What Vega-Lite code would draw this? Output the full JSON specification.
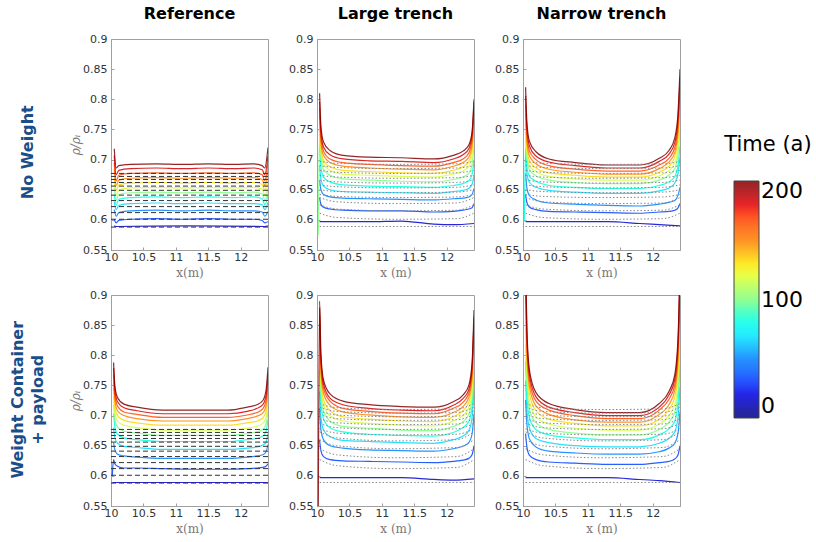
{
"$schema":"https://vega.github.io/schema/vega-lite/v6.json",
"background":"white",
"padding":{"left":10,"top":5,"right":5,"bottom":5},
"datasets":{
"A":[
{"t":17,"x":10.05,"y":0.590},{"t":17,"x":10.08,"y":0.589},{"t":17,"x":11.2,"y":0.590},{"t":17,"x":12.37,"y":0.589},{"t":17,"x":12.42,"y":0.590},
{"t":33,"x":10.05,"y":0.601},{"t":33,"x":10.08,"y":0.595},{"t":33,"x":10.12,"y":0.599},{"t":33,"x":10.3,"y":0.601},{"t":33,"x":10.7,"y":0.602},{"t":33,"x":11.1,"y":0.601},{"t":33,"x":11.5,"y":0.602},{"t":33,"x":11.9,"y":0.601},{"t":33,"x":12.2,"y":0.601},{"t":33,"x":12.33,"y":0.599},{"t":33,"x":12.37,"y":0.595},{"t":33,"x":12.42,"y":0.597},
{"t":50,"x":10.05,"y":0.617},{"t":50,"x":10.08,"y":0.606},{"t":50,"x":10.12,"y":0.612},{"t":50,"x":10.3,"y":0.615},{"t":50,"x":10.7,"y":0.616},{"t":50,"x":11.1,"y":0.615},{"t":50,"x":11.5,"y":0.616},{"t":50,"x":11.9,"y":0.615},{"t":50,"x":12.2,"y":0.615},{"t":50,"x":12.33,"y":0.613},{"t":50,"x":12.37,"y":0.606},{"t":50,"x":12.42,"y":0.614},
{"t":67,"x":10.05,"y":0.630},{"t":67,"x":10.08,"y":0.617},{"t":67,"x":10.12,"y":0.624},{"t":67,"x":10.3,"y":0.627},{"t":67,"x":10.7,"y":0.628},{"t":67,"x":11.1,"y":0.627},{"t":67,"x":11.5,"y":0.628},{"t":67,"x":11.9,"y":0.627},{"t":67,"x":12.2,"y":0.627},{"t":67,"x":12.33,"y":0.625},{"t":67,"x":12.37,"y":0.617},{"t":67,"x":12.42,"y":0.629},
{"t":83,"x":10.05,"y":0.642},{"t":83,"x":10.08,"y":0.625},{"t":83,"x":10.12,"y":0.634},{"t":83,"x":10.3,"y":0.637},{"t":83,"x":10.7,"y":0.638},{"t":83,"x":11.1,"y":0.637},{"t":83,"x":11.5,"y":0.638},{"t":83,"x":11.9,"y":0.637},{"t":83,"x":12.2,"y":0.638},{"t":83,"x":12.33,"y":0.635},{"t":83,"x":12.37,"y":0.625},{"t":83,"x":12.42,"y":0.641},
{"t":100,"x":10.05,"y":0.652},{"t":100,"x":10.08,"y":0.633},{"t":100,"x":10.12,"y":0.642},{"t":100,"x":10.3,"y":0.645},{"t":100,"x":10.7,"y":0.646},{"t":100,"x":11.1,"y":0.645},{"t":100,"x":11.5,"y":0.646},{"t":100,"x":11.9,"y":0.645},{"t":100,"x":12.2,"y":0.646},{"t":100,"x":12.33,"y":0.643},{"t":100,"x":12.37,"y":0.633},{"t":100,"x":12.42,"y":0.651},
{"t":117,"x":10.05,"y":0.662},{"t":117,"x":10.08,"y":0.641},{"t":117,"x":10.12,"y":0.650},{"t":117,"x":10.3,"y":0.653},{"t":117,"x":10.7,"y":0.654},{"t":117,"x":11.1,"y":0.653},{"t":117,"x":11.5,"y":0.654},{"t":117,"x":11.9,"y":0.653},{"t":117,"x":12.2,"y":0.654},{"t":117,"x":12.33,"y":0.651},{"t":117,"x":12.37,"y":0.641},{"t":117,"x":12.42,"y":0.661},
{"t":133,"x":10.05,"y":0.673},{"t":133,"x":10.08,"y":0.649},{"t":133,"x":10.12,"y":0.658},{"t":133,"x":10.3,"y":0.661},{"t":133,"x":10.7,"y":0.662},{"t":133,"x":11.1,"y":0.661},{"t":133,"x":11.5,"y":0.662},{"t":133,"x":11.9,"y":0.661},{"t":133,"x":12.2,"y":0.662},{"t":133,"x":12.33,"y":0.659},{"t":133,"x":12.37,"y":0.649},{"t":133,"x":12.42,"y":0.671},
{"t":150,"x":10.05,"y":0.684},{"t":150,"x":10.08,"y":0.657},{"t":150,"x":10.12,"y":0.666},{"t":150,"x":10.3,"y":0.669},{"t":150,"x":10.7,"y":0.670},{"t":150,"x":11.1,"y":0.669},{"t":150,"x":11.5,"y":0.670},{"t":150,"x":11.9,"y":0.669},{"t":150,"x":12.2,"y":0.670},{"t":150,"x":12.33,"y":0.667},{"t":150,"x":12.37,"y":0.657},{"t":150,"x":12.42,"y":0.682},
{"t":167,"x":10.05,"y":0.695},{"t":167,"x":10.08,"y":0.665},{"t":167,"x":10.12,"y":0.674},{"t":167,"x":10.3,"y":0.677},{"t":167,"x":10.7,"y":0.678},{"t":167,"x":11.1,"y":0.677},{"t":167,"x":11.5,"y":0.678},{"t":167,"x":11.9,"y":0.677},{"t":167,"x":12.2,"y":0.678},{"t":167,"x":12.33,"y":0.675},{"t":167,"x":12.37,"y":0.665},{"t":167,"x":12.42,"y":0.694},
{"t":183,"x":10.05,"y":0.707},{"t":183,"x":10.08,"y":0.675},{"t":183,"x":10.12,"y":0.682},{"t":183,"x":10.3,"y":0.685},{"t":183,"x":10.7,"y":0.686},{"t":183,"x":11.1,"y":0.685},{"t":183,"x":11.5,"y":0.686},{"t":183,"x":11.9,"y":0.685},{"t":183,"x":12.2,"y":0.686},{"t":183,"x":12.33,"y":0.683},{"t":183,"x":12.37,"y":0.675},{"t":183,"x":12.42,"y":0.706},
{"t":200,"x":10.05,"y":0.718},{"t":200,"x":10.08,"y":0.686},{"t":200,"x":10.12,"y":0.690},{"t":200,"x":10.3,"y":0.692},{"t":200,"x":10.7,"y":0.693},{"t":200,"x":11.1,"y":0.692},{"t":200,"x":11.5,"y":0.693},{"t":200,"x":11.9,"y":0.692},{"t":200,"x":12.2,"y":0.693},{"t":200,"x":12.33,"y":0.690},{"t":200,"x":12.37,"y":0.686},{"t":200,"x":12.42,"y":0.720}
],
"B":[
{"t":17,"x":10.04,"y":0.597},{"t":17,"x":10.4,"y":0.597},{"t":17,"x":10.8,"y":0.597},{"t":17,"x":11.3,"y":0.598},{"t":17,"x":11.8,"y":0.593},{"t":17,"x":12.1,"y":0.592},{"t":17,"x":12.42,"y":0.594},
{"t":33,"x":10.04,"y":0.637},{"t":33,"x":10.06,"y":0.626},{"t":33,"x":10.1,"y":0.621},{"t":33,"x":10.2,"y":0.618},{"t":33,"x":10.4,"y":0.616},{"t":33,"x":10.8,"y":0.615},{"t":33,"x":11.3,"y":0.615},{"t":33,"x":11.8,"y":0.613},{"t":33,"x":12.1,"y":0.614},{"t":33,"x":12.25,"y":0.616},{"t":33,"x":12.34,"y":0.618},{"t":33,"x":12.39,"y":0.620},{"t":33,"x":12.42,"y":0.627},
{"t":50,"x":10.04,"y":0.666},{"t":50,"x":10.06,"y":0.650},{"t":50,"x":10.1,"y":0.642},{"t":50,"x":10.2,"y":0.638},{"t":50,"x":10.4,"y":0.636},{"t":50,"x":10.8,"y":0.635},{"t":50,"x":11.3,"y":0.634},{"t":50,"x":11.8,"y":0.633},{"t":50,"x":12.1,"y":0.635},{"t":50,"x":12.25,"y":0.636},{"t":50,"x":12.34,"y":0.638},{"t":50,"x":12.39,"y":0.642},{"t":50,"x":12.42,"y":0.652},
{"t":67,"x":10.04,"y":0.690},{"t":67,"x":10.06,"y":0.668},{"t":67,"x":10.1,"y":0.656},{"t":67,"x":10.2,"y":0.650},{"t":67,"x":10.4,"y":0.647},{"t":67,"x":10.8,"y":0.646},{"t":67,"x":11.3,"y":0.645},{"t":67,"x":11.8,"y":0.644},{"t":67,"x":12.1,"y":0.647},{"t":67,"x":12.25,"y":0.649},{"t":67,"x":12.34,"y":0.652},{"t":67,"x":12.39,"y":0.659},{"t":67,"x":12.42,"y":0.675},
{"t":83,"x":10.04,"y":0.720},{"t":83,"x":10.06,"y":0.688},{"t":83,"x":10.1,"y":0.671},{"t":83,"x":10.2,"y":0.663},{"t":83,"x":10.4,"y":0.658},{"t":83,"x":10.8,"y":0.656},{"t":83,"x":11.3,"y":0.655},{"t":83,"x":11.8,"y":0.654},{"t":83,"x":12.1,"y":0.657},{"t":83,"x":12.25,"y":0.660},{"t":83,"x":12.34,"y":0.665},{"t":83,"x":12.39,"y":0.675},{"t":83,"x":12.42,"y":0.700},
{"t":100,"x":10.02,"y":0.575},{"t":100,"x":10.04,"y":0.744},{"t":100,"x":10.06,"y":0.704},{"t":100,"x":10.1,"y":0.684},{"t":100,"x":10.2,"y":0.674},{"t":100,"x":10.4,"y":0.668},{"t":100,"x":10.8,"y":0.666},{"t":100,"x":11.3,"y":0.664},{"t":100,"x":11.8,"y":0.663},{"t":100,"x":12.1,"y":0.667},{"t":100,"x":12.25,"y":0.671},{"t":100,"x":12.34,"y":0.677},{"t":100,"x":12.39,"y":0.691},{"t":100,"x":12.42,"y":0.724},
{"t":117,"x":10.04,"y":0.755},{"t":117,"x":10.06,"y":0.714},{"t":117,"x":10.1,"y":0.693},{"t":117,"x":10.2,"y":0.682},{"t":117,"x":10.4,"y":0.676},{"t":117,"x":10.8,"y":0.674},{"t":117,"x":11.3,"y":0.672},{"t":117,"x":11.8,"y":0.671},{"t":117,"x":12.1,"y":0.676},{"t":117,"x":12.25,"y":0.681},{"t":117,"x":12.34,"y":0.689},{"t":117,"x":12.39,"y":0.706},{"t":117,"x":12.42,"y":0.747},
{"t":133,"x":10.04,"y":0.763},{"t":133,"x":10.06,"y":0.721},{"t":133,"x":10.1,"y":0.699},{"t":133,"x":10.2,"y":0.688},{"t":133,"x":10.4,"y":0.682},{"t":133,"x":10.8,"y":0.680},{"t":133,"x":11.3,"y":0.678},{"t":133,"x":11.8,"y":0.677},{"t":133,"x":12.1,"y":0.682},{"t":133,"x":12.25,"y":0.688},{"t":133,"x":12.34,"y":0.697},{"t":133,"x":12.39,"y":0.716},{"t":133,"x":12.42,"y":0.763},
{"t":150,"x":10.04,"y":0.774},{"t":150,"x":10.06,"y":0.729},{"t":150,"x":10.1,"y":0.707},{"t":150,"x":10.2,"y":0.695},{"t":150,"x":10.4,"y":0.689},{"t":150,"x":10.8,"y":0.686},{"t":150,"x":11.3,"y":0.684},{"t":150,"x":11.8,"y":0.683},{"t":150,"x":12.1,"y":0.689},{"t":150,"x":12.25,"y":0.695},{"t":150,"x":12.34,"y":0.704},{"t":150,"x":12.39,"y":0.725},{"t":150,"x":12.42,"y":0.774},
{"t":167,"x":10.04,"y":0.785},{"t":167,"x":10.06,"y":0.738},{"t":167,"x":10.1,"y":0.714},{"t":167,"x":10.2,"y":0.701},{"t":167,"x":10.4,"y":0.695},{"t":167,"x":10.8,"y":0.692},{"t":167,"x":11.3,"y":0.690},{"t":167,"x":11.8,"y":0.689},{"t":167,"x":12.1,"y":0.695},{"t":167,"x":12.25,"y":0.701},{"t":167,"x":12.34,"y":0.711},{"t":167,"x":12.39,"y":0.733},{"t":167,"x":12.42,"y":0.785},
{"t":183,"x":10.04,"y":0.796},{"t":183,"x":10.06,"y":0.746},{"t":183,"x":10.1,"y":0.721},{"t":183,"x":10.2,"y":0.708},{"t":183,"x":10.4,"y":0.701},{"t":183,"x":10.8,"y":0.698},{"t":183,"x":11.3,"y":0.697},{"t":183,"x":11.8,"y":0.695},{"t":183,"x":12.1,"y":0.701},{"t":183,"x":12.25,"y":0.708},{"t":183,"x":12.34,"y":0.718},{"t":183,"x":12.39,"y":0.741},{"t":183,"x":12.42,"y":0.796},
{"t":200,"x":10.04,"y":0.810},{"t":200,"x":10.06,"y":0.756},{"t":200,"x":10.1,"y":0.729},{"t":200,"x":10.2,"y":0.715},{"t":200,"x":10.4,"y":0.707},{"t":200,"x":10.8,"y":0.704},{"t":200,"x":11.3,"y":0.703},{"t":200,"x":11.8,"y":0.701},{"t":200,"x":12.1,"y":0.707},{"t":200,"x":12.25,"y":0.714},{"t":200,"x":12.34,"y":0.724},{"t":200,"x":12.39,"y":0.746},{"t":200,"x":12.42,"y":0.800}
],
"C":[
{"t":17,"x":10.04,"y":0.597},{"t":17,"x":10.4,"y":0.597},{"t":17,"x":10.8,"y":0.597},{"t":17,"x":11.3,"y":0.597},{"t":17,"x":11.8,"y":0.594},{"t":17,"x":12.1,"y":0.592},{"t":17,"x":12.42,"y":0.590},
{"t":33,"x":10.04,"y":0.642},{"t":33,"x":10.06,"y":0.629},{"t":33,"x":10.1,"y":0.621},{"t":33,"x":10.2,"y":0.617},{"t":33,"x":10.4,"y":0.614},{"t":33,"x":10.8,"y":0.613},{"t":33,"x":11.3,"y":0.612},{"t":33,"x":11.8,"y":0.611},{"t":33,"x":12.1,"y":0.613},{"t":33,"x":12.25,"y":0.614},{"t":33,"x":12.34,"y":0.616},{"t":33,"x":12.39,"y":0.620},{"t":33,"x":12.42,"y":0.627},
{"t":50,"x":10.04,"y":0.677},{"t":50,"x":10.06,"y":0.653},{"t":50,"x":10.1,"y":0.640},{"t":50,"x":10.2,"y":0.633},{"t":50,"x":10.4,"y":0.628},{"t":50,"x":10.8,"y":0.626},{"t":50,"x":11.3,"y":0.624},{"t":50,"x":11.8,"y":0.623},{"t":50,"x":12.1,"y":0.626},{"t":50,"x":12.25,"y":0.629},{"t":50,"x":12.34,"y":0.632},{"t":50,"x":12.39,"y":0.641},{"t":50,"x":12.42,"y":0.654},
{"t":67,"x":10.04,"y":0.704},{"t":67,"x":10.06,"y":0.677},{"t":67,"x":10.1,"y":0.662},{"t":67,"x":10.2,"y":0.654},{"t":67,"x":10.4,"y":0.649},{"t":67,"x":10.8,"y":0.646},{"t":67,"x":11.3,"y":0.644},{"t":67,"x":11.8,"y":0.644},{"t":67,"x":12.1,"y":0.648},{"t":67,"x":12.25,"y":0.653},{"t":67,"x":12.34,"y":0.661},{"t":67,"x":12.39,"y":0.677},{"t":67,"x":12.42,"y":0.704},
{"t":83,"x":10.02,"y":0.597},{"t":83,"x":10.04,"y":0.720},{"t":83,"x":10.06,"y":0.689},{"t":83,"x":10.1,"y":0.672},{"t":83,"x":10.2,"y":0.664},{"t":83,"x":10.4,"y":0.657},{"t":83,"x":10.8,"y":0.654},{"t":83,"x":11.3,"y":0.652},{"t":83,"x":11.8,"y":0.652},{"t":83,"x":12.1,"y":0.657},{"t":83,"x":12.25,"y":0.663},{"t":83,"x":12.34,"y":0.672},{"t":83,"x":12.39,"y":0.691},{"t":83,"x":12.42,"y":0.722},
{"t":100,"x":10.04,"y":0.735},{"t":100,"x":10.06,"y":0.701},{"t":100,"x":10.1,"y":0.683},{"t":100,"x":10.2,"y":0.673},{"t":100,"x":10.4,"y":0.666},{"t":100,"x":10.8,"y":0.662},{"t":100,"x":11.3,"y":0.660},{"t":100,"x":11.8,"y":0.660},{"t":100,"x":12.1,"y":0.666},{"t":100,"x":12.25,"y":0.674},{"t":100,"x":12.34,"y":0.685},{"t":100,"x":12.39,"y":0.710},{"t":100,"x":12.42,"y":0.750},
{"t":117,"x":10.04,"y":0.746},{"t":117,"x":10.06,"y":0.710},{"t":117,"x":10.1,"y":0.690},{"t":117,"x":10.2,"y":0.680},{"t":117,"x":10.4,"y":0.672},{"t":117,"x":10.8,"y":0.668},{"t":117,"x":11.3,"y":0.666},{"t":117,"x":11.8,"y":0.666},{"t":117,"x":12.1,"y":0.673},{"t":117,"x":12.25,"y":0.682},{"t":117,"x":12.34,"y":0.695},{"t":117,"x":12.39,"y":0.724},{"t":117,"x":12.42,"y":0.771},
{"t":133,"x":10.04,"y":0.761},{"t":133,"x":10.06,"y":0.721},{"t":133,"x":10.1,"y":0.698},{"t":133,"x":10.2,"y":0.686},{"t":133,"x":10.4,"y":0.678},{"t":133,"x":10.8,"y":0.674},{"t":133,"x":11.3,"y":0.671},{"t":133,"x":11.8,"y":0.671},{"t":133,"x":12.1,"y":0.679},{"t":133,"x":12.25,"y":0.689},{"t":133,"x":12.34,"y":0.705},{"t":133,"x":12.39,"y":0.737},{"t":133,"x":12.42,"y":0.791},
{"t":150,"x":10.04,"y":0.776},{"t":150,"x":10.06,"y":0.731},{"t":150,"x":10.1,"y":0.706},{"t":150,"x":10.2,"y":0.693},{"t":150,"x":10.4,"y":0.684},{"t":150,"x":10.8,"y":0.679},{"t":150,"x":11.3,"y":0.676},{"t":150,"x":11.8,"y":0.676},{"t":150,"x":12.1,"y":0.685},{"t":150,"x":12.25,"y":0.696},{"t":150,"x":12.34,"y":0.712},{"t":150,"x":12.39,"y":0.748},{"t":150,"x":12.42,"y":0.806},
{"t":167,"x":10.04,"y":0.791},{"t":167,"x":10.06,"y":0.742},{"t":167,"x":10.1,"y":0.714},{"t":167,"x":10.2,"y":0.700},{"t":167,"x":10.4,"y":0.690},{"t":167,"x":10.8,"y":0.684},{"t":167,"x":11.3,"y":0.681},{"t":167,"x":11.8,"y":0.681},{"t":167,"x":12.1,"y":0.691},{"t":167,"x":12.25,"y":0.702},{"t":167,"x":12.34,"y":0.720},{"t":167,"x":12.39,"y":0.758},{"t":167,"x":12.42,"y":0.821},
{"t":183,"x":10.04,"y":0.806},{"t":183,"x":10.06,"y":0.752},{"t":183,"x":10.1,"y":0.722},{"t":183,"x":10.2,"y":0.706},{"t":183,"x":10.4,"y":0.696},{"t":183,"x":10.8,"y":0.690},{"t":183,"x":11.3,"y":0.686},{"t":183,"x":11.8,"y":0.686},{"t":183,"x":12.1,"y":0.697},{"t":183,"x":12.25,"y":0.709},{"t":183,"x":12.34,"y":0.728},{"t":183,"x":12.39,"y":0.769},{"t":183,"x":12.42,"y":0.836},
{"t":200,"x":10.04,"y":0.820},{"t":200,"x":10.06,"y":0.762},{"t":200,"x":10.1,"y":0.730},{"t":200,"x":10.2,"y":0.713},{"t":200,"x":10.4,"y":0.701},{"t":200,"x":10.8,"y":0.695},{"t":200,"x":11.3,"y":0.691},{"t":200,"x":11.8,"y":0.691},{"t":200,"x":12.1,"y":0.702},{"t":200,"x":12.25,"y":0.715},{"t":200,"x":12.34,"y":0.736},{"t":200,"x":12.39,"y":0.778},{"t":200,"x":12.42,"y":0.850}
],
"D":[
{"t":17,"x":10.02,"y":0.589},{"t":17,"x":11.2,"y":0.589},{"t":17,"x":12.42,"y":0.589},
{"t":33,"x":10.02,"y":0.600},{"t":33,"x":10.04,"y":0.627},{"t":33,"x":10.06,"y":0.620},{"t":33,"x":10.1,"y":0.616},{"t":33,"x":10.2,"y":0.613},{"t":33,"x":10.4,"y":0.613},{"t":33,"x":10.8,"y":0.612},{"t":33,"x":11.3,"y":0.611},{"t":33,"x":11.8,"y":0.611},{"t":33,"x":12.1,"y":0.612},{"t":33,"x":12.25,"y":0.613},{"t":33,"x":12.34,"y":0.614},{"t":33,"x":12.39,"y":0.616},{"t":33,"x":12.42,"y":0.620},
{"t":50,"x":10.04,"y":0.655},{"t":50,"x":10.06,"y":0.643},{"t":50,"x":10.1,"y":0.636},{"t":50,"x":10.2,"y":0.633},{"t":50,"x":10.4,"y":0.631},{"t":50,"x":10.8,"y":0.629},{"t":50,"x":11.3,"y":0.629},{"t":50,"x":11.8,"y":0.629},{"t":50,"x":12.1,"y":0.631},{"t":50,"x":12.25,"y":0.633},{"t":50,"x":12.34,"y":0.635},{"t":50,"x":12.39,"y":0.640},{"t":50,"x":12.42,"y":0.652},
{"t":67,"x":10.04,"y":0.680},{"t":67,"x":10.06,"y":0.663},{"t":67,"x":10.1,"y":0.654},{"t":67,"x":10.2,"y":0.649},{"t":67,"x":10.4,"y":0.647},{"t":67,"x":10.8,"y":0.644},{"t":67,"x":11.3,"y":0.644},{"t":67,"x":11.8,"y":0.644},{"t":67,"x":12.1,"y":0.646},{"t":67,"x":12.25,"y":0.648},{"t":67,"x":12.34,"y":0.651},{"t":67,"x":12.39,"y":0.656},{"t":67,"x":12.42,"y":0.670},
{"t":83,"x":10.04,"y":0.703},{"t":83,"x":10.06,"y":0.681},{"t":83,"x":10.1,"y":0.669},{"t":83,"x":10.2,"y":0.663},{"t":83,"x":10.4,"y":0.660},{"t":83,"x":10.8,"y":0.657},{"t":83,"x":11.3,"y":0.657},{"t":83,"x":11.8,"y":0.657},{"t":83,"x":12.1,"y":0.660},{"t":83,"x":12.25,"y":0.662},{"t":83,"x":12.34,"y":0.666},{"t":83,"x":12.39,"y":0.674},{"t":83,"x":12.42,"y":0.693},
{"t":100,"x":10.04,"y":0.718},{"t":100,"x":10.06,"y":0.693},{"t":100,"x":10.1,"y":0.681},{"t":100,"x":10.2,"y":0.674},{"t":100,"x":10.4,"y":0.671},{"t":100,"x":10.8,"y":0.667},{"t":100,"x":11.3,"y":0.667},{"t":100,"x":11.8,"y":0.667},{"t":100,"x":12.1,"y":0.670},{"t":100,"x":12.25,"y":0.673},{"t":100,"x":12.34,"y":0.677},{"t":100,"x":12.39,"y":0.686},{"t":100,"x":12.42,"y":0.708},
{"t":117,"x":10.04,"y":0.732},{"t":117,"x":10.06,"y":0.705},{"t":117,"x":10.1,"y":0.691},{"t":117,"x":10.2,"y":0.684},{"t":117,"x":10.4,"y":0.680},{"t":117,"x":10.8,"y":0.676},{"t":117,"x":11.3,"y":0.676},{"t":117,"x":11.8,"y":0.676},{"t":117,"x":12.1,"y":0.679},{"t":117,"x":12.25,"y":0.682},{"t":117,"x":12.34,"y":0.687},{"t":117,"x":12.39,"y":0.697},{"t":117,"x":12.42,"y":0.722},
{"t":133,"x":10.04,"y":0.745},{"t":133,"x":10.06,"y":0.715},{"t":133,"x":10.1,"y":0.700},{"t":133,"x":10.2,"y":0.692},{"t":133,"x":10.4,"y":0.688},{"t":133,"x":10.8,"y":0.684},{"t":133,"x":11.3,"y":0.684},{"t":133,"x":11.8,"y":0.684},{"t":133,"x":12.1,"y":0.688},{"t":133,"x":12.25,"y":0.691},{"t":133,"x":12.34,"y":0.696},{"t":133,"x":12.39,"y":0.707},{"t":133,"x":12.42,"y":0.735},
{"t":150,"x":10.04,"y":0.757},{"t":150,"x":10.06,"y":0.725},{"t":150,"x":10.1,"y":0.708},{"t":150,"x":10.2,"y":0.700},{"t":150,"x":10.4,"y":0.695},{"t":150,"x":10.8,"y":0.691},{"t":150,"x":11.3,"y":0.691},{"t":150,"x":11.8,"y":0.691},{"t":150,"x":12.1,"y":0.695},{"t":150,"x":12.25,"y":0.699},{"t":150,"x":12.34,"y":0.704},{"t":150,"x":12.39,"y":0.717},{"t":150,"x":12.42,"y":0.747},
{"t":167,"x":10.04,"y":0.768},{"t":167,"x":10.06,"y":0.733},{"t":167,"x":10.1,"y":0.716},{"t":167,"x":10.2,"y":0.706},{"t":167,"x":10.4,"y":0.702},{"t":167,"x":10.8,"y":0.697},{"t":167,"x":11.3,"y":0.697},{"t":167,"x":11.8,"y":0.697},{"t":167,"x":12.1,"y":0.701},{"t":167,"x":12.25,"y":0.705},{"t":167,"x":12.34,"y":0.711},{"t":167,"x":12.39,"y":0.725},{"t":167,"x":12.42,"y":0.758},
{"t":183,"x":10.04,"y":0.779},{"t":183,"x":10.06,"y":0.742},{"t":183,"x":10.1,"y":0.723},{"t":183,"x":10.2,"y":0.713},{"t":183,"x":10.4,"y":0.708},{"t":183,"x":10.8,"y":0.703},{"t":183,"x":11.3,"y":0.703},{"t":183,"x":11.8,"y":0.703},{"t":183,"x":12.1,"y":0.707},{"t":183,"x":12.25,"y":0.712},{"t":183,"x":12.34,"y":0.718},{"t":183,"x":12.39,"y":0.733},{"t":183,"x":12.42,"y":0.769},
{"t":200,"x":10.04,"y":0.788},{"t":200,"x":10.06,"y":0.749},{"t":200,"x":10.1,"y":0.730},{"t":200,"x":10.2,"y":0.719},{"t":200,"x":10.4,"y":0.714},{"t":200,"x":10.8,"y":0.709},{"t":200,"x":11.3,"y":0.709},{"t":200,"x":11.8,"y":0.709},{"t":200,"x":12.1,"y":0.714},{"t":200,"x":12.25,"y":0.718},{"t":200,"x":12.34,"y":0.725},{"t":200,"x":12.39,"y":0.742},{"t":200,"x":12.42,"y":0.780}
],
"E":[
{"t":17,"x":10.04,"y":0.597},{"t":17,"x":10.4,"y":0.597},{"t":17,"x":10.8,"y":0.597},{"t":17,"x":11.3,"y":0.597},{"t":17,"x":11.8,"y":0.594},{"t":17,"x":12.1,"y":0.593},{"t":17,"x":12.42,"y":0.595},
{"t":33,"x":10.04,"y":0.660},{"t":33,"x":10.06,"y":0.642},{"t":33,"x":10.1,"y":0.632},{"t":33,"x":10.2,"y":0.627},{"t":33,"x":10.4,"y":0.625},{"t":33,"x":10.8,"y":0.624},{"t":33,"x":11.3,"y":0.623},{"t":33,"x":11.8,"y":0.622},{"t":33,"x":12.1,"y":0.624},{"t":33,"x":12.25,"y":0.626},{"t":33,"x":12.34,"y":0.629},{"t":33,"x":12.39,"y":0.635},{"t":33,"x":12.42,"y":0.650},
{"t":50,"x":10.04,"y":0.712},{"t":50,"x":10.06,"y":0.677},{"t":50,"x":10.1,"y":0.660},{"t":50,"x":10.2,"y":0.650},{"t":50,"x":10.4,"y":0.646},{"t":50,"x":10.8,"y":0.643},{"t":50,"x":11.3,"y":0.642},{"t":50,"x":11.8,"y":0.641},{"t":50,"x":12.1,"y":0.645},{"t":50,"x":12.25,"y":0.649},{"t":50,"x":12.34,"y":0.655},{"t":50,"x":12.39,"y":0.669},{"t":50,"x":12.42,"y":0.702},
{"t":67,"x":10.04,"y":0.740},{"t":67,"x":10.06,"y":0.698},{"t":67,"x":10.1,"y":0.676},{"t":67,"x":10.2,"y":0.665},{"t":67,"x":10.4,"y":0.659},{"t":67,"x":10.8,"y":0.657},{"t":67,"x":11.3,"y":0.655},{"t":67,"x":11.8,"y":0.654},{"t":67,"x":12.1,"y":0.660},{"t":67,"x":12.25,"y":0.666},{"t":67,"x":12.34,"y":0.675},{"t":67,"x":12.39,"y":0.696},{"t":67,"x":12.42,"y":0.745},
{"t":83,"x":10.04,"y":0.777},{"t":83,"x":10.06,"y":0.722},{"t":83,"x":10.1,"y":0.695},{"t":83,"x":10.2,"y":0.680},{"t":83,"x":10.4,"y":0.673},{"t":83,"x":10.8,"y":0.669},{"t":83,"x":11.3,"y":0.667},{"t":83,"x":11.8,"y":0.666},{"t":83,"x":12.1,"y":0.672},{"t":83,"x":12.25,"y":0.680},{"t":83,"x":12.34,"y":0.690},{"t":83,"x":12.39,"y":0.714},{"t":83,"x":12.42,"y":0.772},
{"t":100,"x":10.04,"y":0.801},{"t":100,"x":10.06,"y":0.739},{"t":100,"x":10.1,"y":0.707},{"t":100,"x":10.2,"y":0.691},{"t":100,"x":10.4,"y":0.682},{"t":100,"x":10.8,"y":0.679},{"t":100,"x":11.3,"y":0.676},{"t":100,"x":11.8,"y":0.675},{"t":100,"x":12.1,"y":0.682},{"t":100,"x":12.25,"y":0.690},{"t":100,"x":12.34,"y":0.702},{"t":100,"x":12.39,"y":0.730},{"t":100,"x":12.42,"y":0.796},
{"t":117,"x":10.04,"y":0.819},{"t":117,"x":10.06,"y":0.752},{"t":117,"x":10.1,"y":0.718},{"t":117,"x":10.2,"y":0.700},{"t":117,"x":10.4,"y":0.691},{"t":117,"x":10.8,"y":0.687},{"t":117,"x":11.3,"y":0.684},{"t":117,"x":11.8,"y":0.683},{"t":117,"x":12.1,"y":0.691},{"t":117,"x":12.25,"y":0.700},{"t":117,"x":12.34,"y":0.713},{"t":117,"x":12.39,"y":0.743},{"t":117,"x":12.42,"y":0.814},
{"t":133,"x":10.04,"y":0.836},{"t":133,"x":10.06,"y":0.764},{"t":133,"x":10.1,"y":0.727},{"t":133,"x":10.2,"y":0.708},{"t":133,"x":10.4,"y":0.698},{"t":133,"x":10.8,"y":0.694},{"t":133,"x":11.3,"y":0.691},{"t":133,"x":11.8,"y":0.690},{"t":133,"x":12.1,"y":0.698},{"t":133,"x":12.25,"y":0.708},{"t":133,"x":12.34,"y":0.722},{"t":133,"x":12.39,"y":0.754},{"t":133,"x":12.42,"y":0.831},
{"t":150,"x":10.04,"y":0.853},{"t":150,"x":10.06,"y":0.776},{"t":150,"x":10.1,"y":0.737},{"t":150,"x":10.2,"y":0.717},{"t":150,"x":10.4,"y":0.706},{"t":150,"x":10.8,"y":0.701},{"t":150,"x":11.3,"y":0.698},{"t":150,"x":11.8,"y":0.697},{"t":150,"x":12.1,"y":0.705},{"t":150,"x":12.25,"y":0.715},{"t":150,"x":12.34,"y":0.730},{"t":150,"x":12.39,"y":0.763},{"t":150,"x":12.42,"y":0.843},
{"t":167,"x":10.04,"y":0.867},{"t":167,"x":10.06,"y":0.786},{"t":167,"x":10.1,"y":0.745},{"t":167,"x":10.2,"y":0.724},{"t":167,"x":10.4,"y":0.712},{"t":167,"x":10.8,"y":0.707},{"t":167,"x":11.3,"y":0.704},{"t":167,"x":11.8,"y":0.703},{"t":167,"x":12.1,"y":0.712},{"t":167,"x":12.25,"y":0.722},{"t":167,"x":12.34,"y":0.737},{"t":167,"x":12.39,"y":0.772},{"t":167,"x":12.42,"y":0.854},
{"t":183,"x":10.04,"y":0.879},{"t":183,"x":10.06,"y":0.794},{"t":183,"x":10.1,"y":0.752},{"t":183,"x":10.2,"y":0.729},{"t":183,"x":10.4,"y":0.718},{"t":183,"x":10.8,"y":0.712},{"t":183,"x":11.3,"y":0.709},{"t":183,"x":11.8,"y":0.708},{"t":183,"x":12.1,"y":0.717},{"t":183,"x":12.25,"y":0.728},{"t":183,"x":12.34,"y":0.743},{"t":183,"x":12.39,"y":0.779},{"t":183,"x":12.42,"y":0.864},
{"t":200,"x":10.02,"y":0.550},{"t":200,"x":10.04,"y":0.890},{"t":200,"x":10.06,"y":0.803},{"t":200,"x":10.1,"y":0.759},{"t":200,"x":10.2,"y":0.736},{"t":200,"x":10.4,"y":0.724},{"t":200,"x":10.8,"y":0.718},{"t":200,"x":11.3,"y":0.715},{"t":200,"x":11.8,"y":0.714},{"t":200,"x":12.1,"y":0.723},{"t":200,"x":12.25,"y":0.734},{"t":200,"x":12.34,"y":0.750},{"t":200,"x":12.39,"y":0.787},{"t":200,"x":12.42,"y":0.875}
],
"F":[
{"t":17,"x":10.04,"y":0.597},{"t":17,"x":10.4,"y":0.597},{"t":17,"x":10.8,"y":0.597},{"t":17,"x":11.3,"y":0.597},{"t":17,"x":11.8,"y":0.594},{"t":17,"x":12.1,"y":0.592},{"t":17,"x":12.42,"y":0.589},
{"t":33,"x":10.04,"y":0.670},{"t":33,"x":10.06,"y":0.648},{"t":33,"x":10.1,"y":0.634},{"t":33,"x":10.2,"y":0.627},{"t":33,"x":10.4,"y":0.623},{"t":33,"x":10.8,"y":0.621},{"t":33,"x":11.3,"y":0.619},{"t":33,"x":11.8,"y":0.619},{"t":33,"x":12.1,"y":0.622},{"t":33,"x":12.25,"y":0.624},{"t":33,"x":12.34,"y":0.628},{"t":33,"x":12.39,"y":0.635},{"t":33,"x":12.42,"y":0.650},
{"t":50,"x":10.04,"y":0.726},{"t":50,"x":10.06,"y":0.686},{"t":50,"x":10.1,"y":0.661},{"t":50,"x":10.2,"y":0.648},{"t":50,"x":10.4,"y":0.641},{"t":50,"x":10.8,"y":0.638},{"t":50,"x":11.3,"y":0.636},{"t":50,"x":11.8,"y":0.636},{"t":50,"x":12.1,"y":0.640},{"t":50,"x":12.25,"y":0.646},{"t":50,"x":12.34,"y":0.654},{"t":50,"x":12.39,"y":0.671},{"t":50,"x":12.42,"y":0.706},
{"t":67,"x":10.04,"y":0.758},{"t":67,"x":10.06,"y":0.709},{"t":67,"x":10.1,"y":0.679},{"t":67,"x":10.2,"y":0.662},{"t":67,"x":10.4,"y":0.655},{"t":67,"x":10.8,"y":0.650},{"t":67,"x":11.3,"y":0.648},{"t":67,"x":11.8,"y":0.648},{"t":67,"x":12.1,"y":0.654},{"t":67,"x":12.25,"y":0.662},{"t":67,"x":12.34,"y":0.673},{"t":67,"x":12.39,"y":0.698},{"t":67,"x":12.42,"y":0.748},
{"t":83,"x":10.04,"y":0.790},{"t":83,"x":10.06,"y":0.732},{"t":83,"x":10.1,"y":0.696},{"t":83,"x":10.2,"y":0.677},{"t":83,"x":10.4,"y":0.668},{"t":83,"x":10.8,"y":0.663},{"t":83,"x":11.3,"y":0.660},{"t":83,"x":11.8,"y":0.660},{"t":83,"x":12.1,"y":0.668},{"t":83,"x":12.25,"y":0.678},{"t":83,"x":12.34,"y":0.691},{"t":83,"x":12.39,"y":0.723},{"t":83,"x":12.42,"y":0.785},
{"t":100,"x":10.04,"y":0.818},{"t":100,"x":10.06,"y":0.751},{"t":100,"x":10.1,"y":0.710},{"t":100,"x":10.2,"y":0.688},{"t":100,"x":10.4,"y":0.677},{"t":100,"x":10.8,"y":0.671},{"t":100,"x":11.3,"y":0.668},{"t":100,"x":11.8,"y":0.668},{"t":100,"x":12.1,"y":0.677},{"t":100,"x":12.25,"y":0.689},{"t":100,"x":12.34,"y":0.706},{"t":100,"x":12.39,"y":0.743},{"t":100,"x":12.42,"y":0.818},
{"t":117,"x":10.04,"y":0.846},{"t":117,"x":10.06,"y":0.770},{"t":117,"x":10.1,"y":0.724},{"t":117,"x":10.2,"y":0.698},{"t":117,"x":10.4,"y":0.686},{"t":117,"x":10.8,"y":0.679},{"t":117,"x":11.3,"y":0.676},{"t":117,"x":11.8,"y":0.676},{"t":117,"x":12.1,"y":0.686},{"t":117,"x":12.25,"y":0.700},{"t":117,"x":12.34,"y":0.719},{"t":117,"x":12.39,"y":0.761},{"t":117,"x":12.42,"y":0.846},
{"t":133,"x":10.04,"y":0.873},{"t":133,"x":10.06,"y":0.788},{"t":133,"x":10.1,"y":0.736},{"t":133,"x":10.2,"y":0.708},{"t":133,"x":10.4,"y":0.694},{"t":133,"x":10.8,"y":0.687},{"t":133,"x":11.3,"y":0.683},{"t":133,"x":11.8,"y":0.683},{"t":133,"x":12.1,"y":0.694},{"t":133,"x":12.25,"y":0.710},{"t":133,"x":12.34,"y":0.731},{"t":133,"x":12.39,"y":0.778},{"t":133,"x":12.42,"y":0.873},
{"t":150,"x":10.04,"y":0.899},{"t":150,"x":10.06,"y":0.805},{"t":150,"x":10.1,"y":0.748},{"t":150,"x":10.2,"y":0.716},{"t":150,"x":10.4,"y":0.702},{"t":150,"x":10.8,"y":0.693},{"t":150,"x":11.3,"y":0.689},{"t":150,"x":11.8,"y":0.689},{"t":150,"x":12.1,"y":0.702},{"t":150,"x":12.25,"y":0.718},{"t":150,"x":12.34,"y":0.742},{"t":150,"x":12.39,"y":0.794},{"t":150,"x":12.42,"y":0.899},
{"t":167,"x":10.04,"y":0.920},{"t":167,"x":10.06,"y":0.819},{"t":167,"x":10.1,"y":0.758},{"t":167,"x":10.2,"y":0.724},{"t":167,"x":10.4,"y":0.709},{"t":167,"x":10.8,"y":0.700},{"t":167,"x":11.3,"y":0.695},{"t":167,"x":11.8,"y":0.695},{"t":167,"x":12.1,"y":0.709},{"t":167,"x":12.25,"y":0.727},{"t":167,"x":12.34,"y":0.751},{"t":167,"x":12.39,"y":0.808},{"t":167,"x":12.42,"y":0.920},
{"t":183,"x":10.04,"y":0.940},{"t":183,"x":10.06,"y":0.832},{"t":183,"x":10.1,"y":0.767},{"t":183,"x":10.2,"y":0.731},{"t":183,"x":10.4,"y":0.714},{"t":183,"x":10.8,"y":0.705},{"t":183,"x":11.3,"y":0.700},{"t":183,"x":11.8,"y":0.700},{"t":183,"x":12.1,"y":0.714},{"t":183,"x":12.25,"y":0.734},{"t":183,"x":12.34,"y":0.760},{"t":183,"x":12.39,"y":0.820},{"t":183,"x":12.42,"y":0.940},
{"t":200,"x":10.04,"y":0.955},{"t":200,"x":10.06,"y":0.843},{"t":200,"x":10.1,"y":0.775},{"t":200,"x":10.2,"y":0.738},{"t":200,"x":10.4,"y":0.720},{"t":200,"x":10.8,"y":0.710},{"t":200,"x":11.3,"y":0.705},{"t":200,"x":11.8,"y":0.705},{"t":200,"x":12.1,"y":0.720},{"t":200,"x":12.25,"y":0.740},{"t":200,"x":12.34,"y":0.768},{"t":200,"x":12.39,"y":0.830},{"t":200,"x":12.42,"y":0.955}
],
"dash":[
{"k":0,"x":10,"y":0.588},{"k":0,"x":12.42,"y":0.588},
{"k":1,"x":10,"y":0.601},{"k":1,"x":12.42,"y":0.601},
{"k":2,"x":10,"y":0.612},{"k":2,"x":12.42,"y":0.612},
{"k":3,"x":10,"y":0.622},{"k":3,"x":12.42,"y":0.622},
{"k":4,"x":10,"y":0.632},{"k":4,"x":12.42,"y":0.632},
{"k":5,"x":10,"y":0.641},{"k":5,"x":12.42,"y":0.641},
{"k":6,"x":10,"y":0.649},{"k":6,"x":12.42,"y":0.649},
{"k":7,"x":10,"y":0.656},{"k":7,"x":12.42,"y":0.656},
{"k":8,"x":10,"y":0.662},{"k":8,"x":12.42,"y":0.662},
{"k":9,"x":10,"y":0.667},{"k":9,"x":12.42,"y":0.667},
{"k":10,"x":10,"y":0.672},{"k":10,"x":12.42,"y":0.672},
{"k":11,"x":10,"y":0.677},{"k":11,"x":12.42,"y":0.677}
],
"dotT":[
{"k":0,"x":10.04,"y":0.589},{"k":0,"x":12.42,"y":0.589},
{"k":1,"x":10.04,"y":0.611},{"k":1,"x":10.3,"y":0.604},{"k":1,"x":11.2,"y":0.601},{"k":1,"x":12.15,"y":0.602},{"k":1,"x":12.42,"y":0.611},
{"k":2,"x":10.04,"y":0.625},{"k":2,"x":10.3,"y":0.618},{"k":2,"x":11.2,"y":0.615},{"k":2,"x":12.15,"y":0.616},{"k":2,"x":12.42,"y":0.625},
{"k":3,"x":10.04,"y":0.637},{"k":3,"x":10.3,"y":0.630},{"k":3,"x":11.2,"y":0.627},{"k":3,"x":12.15,"y":0.628},{"k":3,"x":12.42,"y":0.637},
{"k":4,"x":10.04,"y":0.642},{"k":4,"x":10.3,"y":0.639},{"k":4,"x":11.2,"y":0.637},{"k":4,"x":12.15,"y":0.638},{"k":4,"x":12.42,"y":0.642},
{"k":5,"x":10.04,"y":0.650},{"k":5,"x":10.3,"y":0.647},{"k":5,"x":11.2,"y":0.645},{"k":5,"x":12.15,"y":0.646},{"k":5,"x":12.42,"y":0.650},
{"k":6,"x":10.04,"y":0.658},{"k":6,"x":10.3,"y":0.655},{"k":6,"x":11.2,"y":0.653},{"k":6,"x":12.15,"y":0.654},{"k":6,"x":12.42,"y":0.658},
{"k":7,"x":10.04,"y":0.666},{"k":7,"x":10.3,"y":0.663},{"k":7,"x":11.2,"y":0.661},{"k":7,"x":12.15,"y":0.662},{"k":7,"x":12.42,"y":0.666},
{"k":8,"x":10.04,"y":0.674},{"k":8,"x":10.3,"y":0.671},{"k":8,"x":11.2,"y":0.669},{"k":8,"x":12.15,"y":0.670},{"k":8,"x":12.42,"y":0.674},
{"k":9,"x":10.04,"y":0.682},{"k":9,"x":10.3,"y":0.679},{"k":9,"x":11.2,"y":0.677},{"k":9,"x":12.15,"y":0.678},{"k":9,"x":12.42,"y":0.682},
{"k":10,"x":10.04,"y":0.690},{"k":10,"x":10.3,"y":0.687},{"k":10,"x":11.2,"y":0.685},{"k":10,"x":12.15,"y":0.686},{"k":10,"x":12.42,"y":0.690},
{"k":11,"x":10.04,"y":0.697},{"k":11,"x":10.3,"y":0.694},{"k":11,"x":11.2,"y":0.692},{"k":11,"x":12.15,"y":0.693},{"k":11,"x":12.42,"y":0.697}
],
"dotB":[
{"k":0,"x":10.04,"y":0.589},{"k":0,"x":12.42,"y":0.589},
{"k":1,"x":10.04,"y":0.627},{"k":1,"x":10.3,"y":0.617},{"k":1,"x":11.2,"y":0.612},{"k":1,"x":12.15,"y":0.614},{"k":1,"x":12.42,"y":0.627},
{"k":2,"x":10.04,"y":0.645},{"k":2,"x":10.3,"y":0.635},{"k":2,"x":11.2,"y":0.630},{"k":2,"x":12.15,"y":0.632},{"k":2,"x":12.42,"y":0.645},
{"k":3,"x":10.04,"y":0.660},{"k":3,"x":10.3,"y":0.650},{"k":3,"x":11.2,"y":0.645},{"k":3,"x":12.15,"y":0.647},{"k":3,"x":12.42,"y":0.660},
{"k":4,"x":10.04,"y":0.673},{"k":4,"x":10.3,"y":0.663},{"k":4,"x":11.2,"y":0.658},{"k":4,"x":12.15,"y":0.660},{"k":4,"x":12.42,"y":0.673},
{"k":5,"x":10.04,"y":0.678},{"k":5,"x":10.3,"y":0.671},{"k":5,"x":11.2,"y":0.668},{"k":5,"x":12.15,"y":0.669},{"k":5,"x":12.42,"y":0.678},
{"k":6,"x":10.04,"y":0.687},{"k":6,"x":10.3,"y":0.680},{"k":6,"x":11.2,"y":0.677},{"k":6,"x":12.15,"y":0.678},{"k":6,"x":12.42,"y":0.687},
{"k":7,"x":10.04,"y":0.695},{"k":7,"x":10.3,"y":0.688},{"k":7,"x":11.2,"y":0.685},{"k":7,"x":12.15,"y":0.686},{"k":7,"x":12.42,"y":0.695},
{"k":8,"x":10.04,"y":0.702},{"k":8,"x":10.3,"y":0.695},{"k":8,"x":11.2,"y":0.692},{"k":8,"x":12.15,"y":0.693},{"k":8,"x":12.42,"y":0.702},
{"k":9,"x":10.04,"y":0.708},{"k":9,"x":10.3,"y":0.701},{"k":9,"x":11.2,"y":0.698},{"k":9,"x":12.15,"y":0.699},{"k":9,"x":12.42,"y":0.708},
{"k":10,"x":10.04,"y":0.714},{"k":10,"x":10.3,"y":0.707},{"k":10,"x":11.2,"y":0.704},{"k":10,"x":12.15,"y":0.705},{"k":10,"x":12.42,"y":0.714},
{"k":11,"x":10.04,"y":0.720},{"k":11,"x":10.3,"y":0.713},{"k":11,"x":11.2,"y":0.710},{"k":11,"x":12.15,"y":0.711},{"k":11,"x":12.42,"y":0.720}
]
},
"config":{
"font":"DejaVu Sans",
"view":{"stroke":"#a0a0a0","strokeWidth":1},
"axis":{"grid":false,"labelFont":"DejaVu Sans","labelFontSize":11,"labelColor":"#333","labelOverlap":false,"labelFlush":false,"domainColor":"#a0a0a0","tickColor":"#a0a0a0","tickSize":-3,"labelPadding":7,"titleFont":"DejaVu Serif","titleFontWeight":"normal","titleColor":"#777","titleFontSize":12,"titlePadding":2},
"axisX":{"labelPadding":4.5,"titlePadding":5},
"title":{"font":"DejaVu Sans","fontSize":16,"fontWeight":"bold","color":"black","frame":"group","anchor":"middle","offset":11},
"legend":{"titleFont":"DejaVu Sans","titleFontSize":21,"titleFontWeight":"normal","titleColor":"black","titleAnchor":"middle","labelFont":"DejaVu Sans","labelFontSize":22,"labelColor":"black","gradientStrokeColor":"#222","gradientStrokeWidth":1,"titlePadding":26,"labelOffset":8}
},
"resolve":{"scale":{"color":"shared"},"legend":{"color":"shared"}},
"spacing":9,
"vconcat":[
{"spacing":19,
"resolve":{"scale":{"color":"shared"},"legend":{"color":"shared"}},
"title":{"text":"No Weight","orient":"left","color":"#1a4e8a","fontSize":16,"fontWeight":"bold","offset":33,"frame":"bounds","dx":-10},
"hconcat":[
{"width":157,"height":211,"title":{"text":"Reference"},
"layer":[
{"data":{"name":"A"},"mark":{"type":"line","strokeWidth":1.2,"opacity":0.85,"interpolate":"monotone","clip":true},
"encoding":{"x":{"field":"x","type":"quantitative","scale":{"domain":[10,12.42],"nice":false,"zero":false},"axis":{"values":[10,10.5,11,11.5,12],"tickCount":20,"format":"~g","labelOverlap":false,"title":"x(m)"}},
"y":{"field":"y","type":"quantitative","scale":{"domain":[0.55,0.9],"nice":false,"zero":false},"axis":{"values":[0.55,0.6,0.65,0.7,0.75,0.8,0.85,0.9],"tickCount":20,"format":".2~f","labelOverlap":false,"title":"ρ/ρᵢ","titleFontStyle":"italic","titlePadding":0}},
"color":{"field":"t","type":"quantitative","scale":{"domain":[0,200],"range":["#00007f","#0000ff","#007fff","#00ffff","#7fff7f","#ffff00","#ff7f00","#ff0000","#7f0000"]},"legend":{"title":"Time (a)","orient":"none","legendX":613,"legendY":95,"direction":"vertical","values":[0,100,200],"gradientLength":237,"gradientThickness":25}},
"detail":{"field":"t","type":"quantitative"}}},
{"data":{"name":"dash"},"mark":{"type":"line","strokeWidth":1,"color":"#333","strokeDash":[5,3],"clip":true},
"encoding":{"x":{"field":"x","type":"quantitative"},"y":{"field":"y","type":"quantitative"},"detail":{"field":"k","type":"nominal"}}}
]},
{"width":157,"height":211,"title":{"text":"Large trench"},
"layer":[
{"data":{"name":"B"},"mark":{"type":"line","strokeWidth":1.2,"opacity":0.85,"interpolate":"monotone","clip":true},
"encoding":{"x":{"field":"x","type":"quantitative","scale":{"domain":[10,12.42],"nice":false,"zero":false},"axis":{"values":[10,10.5,11,11.5,12],"tickCount":20,"format":"~g","labelOverlap":false,"title":"x (m)"}},
"y":{"field":"y","type":"quantitative","scale":{"domain":[0.55,0.9],"nice":false,"zero":false},"axis":{"values":[0.55,0.6,0.65,0.7,0.75,0.8,0.85,0.9],"tickCount":20,"format":".2~f","labelOverlap":false,"title":null}},
"color":{"field":"t","type":"quantitative","scale":{"domain":[0,200],"range":["#00007f","#0000ff","#007fff","#00ffff","#7fff7f","#ffff00","#ff7f00","#ff0000","#7f0000"]},"legend":{"title":"Time (a)","orient":"none","legendX":613,"legendY":95,"direction":"vertical","values":[0,100,200],"gradientLength":237,"gradientThickness":25}},
"detail":{"field":"t","type":"quantitative"}}},
{"data":{"name":"dotT"},"mark":{"type":"line","strokeWidth":1,"color":"#888","strokeDash":[1.5,2],"interpolate":"monotone","clip":true},
"encoding":{"x":{"field":"x","type":"quantitative"},"y":{"field":"y","type":"quantitative"},"detail":{"field":"k","type":"nominal"}}}
]},
{"width":157,"height":211,"title":{"text":"Narrow trench"},
"layer":[
{"data":{"name":"C"},"mark":{"type":"line","strokeWidth":1.2,"opacity":0.85,"interpolate":"monotone","clip":true},
"encoding":{"x":{"field":"x","type":"quantitative","scale":{"domain":[10,12.42],"nice":false,"zero":false},"axis":{"values":[10,10.5,11,11.5,12],"tickCount":20,"format":"~g","labelOverlap":false,"title":"x (m)"}},
"y":{"field":"y","type":"quantitative","scale":{"domain":[0.55,0.9],"nice":false,"zero":false},"axis":{"values":[0.55,0.6,0.65,0.7,0.75,0.8,0.85,0.9],"tickCount":20,"format":".2~f","labelOverlap":false,"title":null}},
"color":{"field":"t","type":"quantitative","scale":{"domain":[0,200],"range":["#00007f","#0000ff","#007fff","#00ffff","#7fff7f","#ffff00","#ff7f00","#ff0000","#7f0000"]},"legend":{"title":"Time (a)","orient":"none","legendX":613,"legendY":95,"direction":"vertical","values":[0,100,200],"gradientLength":237,"gradientThickness":25}},
"detail":{"field":"t","type":"quantitative"}}},
{"data":{"name":"dotT"},"mark":{"type":"line","strokeWidth":1,"color":"#888","strokeDash":[1.5,2],"interpolate":"monotone","clip":true},
"encoding":{"x":{"field":"x","type":"quantitative"},"y":{"field":"y","type":"quantitative"},"detail":{"field":"k","type":"nominal"}}}
]}
]},
{"spacing":19,
"resolve":{"scale":{"color":"shared"},"legend":{"color":"shared"}},
"title":{"text":["Weight Container","+ payload"],"orient":"left","color":"#1a4e8a","fontSize":16,"fontWeight":"bold","offset":23,"lineHeight":20,"frame":"bounds","dx":12},
"hconcat":[
{"width":157,"height":211,
"layer":[
{"data":{"name":"D"},"mark":{"type":"line","strokeWidth":1.2,"opacity":0.85,"interpolate":"monotone","clip":true},
"encoding":{"x":{"field":"x","type":"quantitative","scale":{"domain":[10,12.42],"nice":false,"zero":false},"axis":{"values":[10,10.5,11,11.5,12],"tickCount":20,"format":"~g","labelOverlap":false,"title":"x(m)"}},
"y":{"field":"y","type":"quantitative","scale":{"domain":[0.55,0.9],"nice":false,"zero":false},"axis":{"values":[0.55,0.6,0.65,0.7,0.75,0.8,0.85,0.9],"tickCount":20,"format":".2~f","labelOverlap":false,"title":"ρ/ρᵢ","titleFontStyle":"italic","titlePadding":0}},
"color":{"field":"t","type":"quantitative","scale":{"domain":[0,200],"range":["#00007f","#0000ff","#007fff","#00ffff","#7fff7f","#ffff00","#ff7f00","#ff0000","#7f0000"]},"legend":{"title":"Time (a)","orient":"none","legendX":613,"legendY":95,"direction":"vertical","values":[0,100,200],"gradientLength":237,"gradientThickness":25}},
"detail":{"field":"t","type":"quantitative"}}},
{"data":{"name":"dash"},"mark":{"type":"line","strokeWidth":1,"color":"#333","strokeDash":[5,3],"clip":true},
"encoding":{"x":{"field":"x","type":"quantitative"},"y":{"field":"y","type":"quantitative"},"detail":{"field":"k","type":"nominal"}}}
]},
{"width":157,"height":211,
"layer":[
{"data":{"name":"E"},"mark":{"type":"line","strokeWidth":1.2,"opacity":0.85,"interpolate":"monotone","clip":true},
"encoding":{"x":{"field":"x","type":"quantitative","scale":{"domain":[10,12.42],"nice":false,"zero":false},"axis":{"values":[10,10.5,11,11.5,12],"tickCount":20,"format":"~g","labelOverlap":false,"title":"x (m)"}},
"y":{"field":"y","type":"quantitative","scale":{"domain":[0.55,0.9],"nice":false,"zero":false},"axis":{"values":[0.55,0.6,0.65,0.7,0.75,0.8,0.85,0.9],"tickCount":20,"format":".2~f","labelOverlap":false,"title":null}},
"color":{"field":"t","type":"quantitative","scale":{"domain":[0,200],"range":["#00007f","#0000ff","#007fff","#00ffff","#7fff7f","#ffff00","#ff7f00","#ff0000","#7f0000"]},"legend":{"title":"Time (a)","orient":"none","legendX":613,"legendY":95,"direction":"vertical","values":[0,100,200],"gradientLength":237,"gradientThickness":25}},
"detail":{"field":"t","type":"quantitative"}}},
{"data":{"name":"dotB"},"mark":{"type":"line","strokeWidth":1,"color":"#888","strokeDash":[1.5,2],"interpolate":"monotone","clip":true},
"encoding":{"x":{"field":"x","type":"quantitative"},"y":{"field":"y","type":"quantitative"},"detail":{"field":"k","type":"nominal"}}}
]},
{"width":157,"height":211,
"layer":[
{"data":{"name":"F"},"mark":{"type":"line","strokeWidth":1.2,"opacity":0.85,"interpolate":"monotone","clip":true},
"encoding":{"x":{"field":"x","type":"quantitative","scale":{"domain":[10,12.42],"nice":false,"zero":false},"axis":{"values":[10,10.5,11,11.5,12],"tickCount":20,"format":"~g","labelOverlap":false,"title":"x (m)"}},
"y":{"field":"y","type":"quantitative","scale":{"domain":[0.55,0.9],"nice":false,"zero":false},"axis":{"values":[0.55,0.6,0.65,0.7,0.75,0.8,0.85,0.9],"tickCount":20,"format":".2~f","labelOverlap":false,"title":null}},
"color":{"field":"t","type":"quantitative","scale":{"domain":[0,200],"range":["#00007f","#0000ff","#007fff","#00ffff","#7fff7f","#ffff00","#ff7f00","#ff0000","#7f0000"]},"legend":{"title":"Time (a)","orient":"none","legendX":613,"legendY":95,"direction":"vertical","values":[0,100,200],"gradientLength":237,"gradientThickness":25}},
"detail":{"field":"t","type":"quantitative"}}},
{"data":{"name":"dotB"},"mark":{"type":"line","strokeWidth":1,"color":"#888","strokeDash":[1.5,2],"interpolate":"monotone","clip":true},
"encoding":{"x":{"field":"x","type":"quantitative"},"y":{"field":"y","type":"quantitative"},"detail":{"field":"k","type":"nominal"}}}
]}
]}
]
}
